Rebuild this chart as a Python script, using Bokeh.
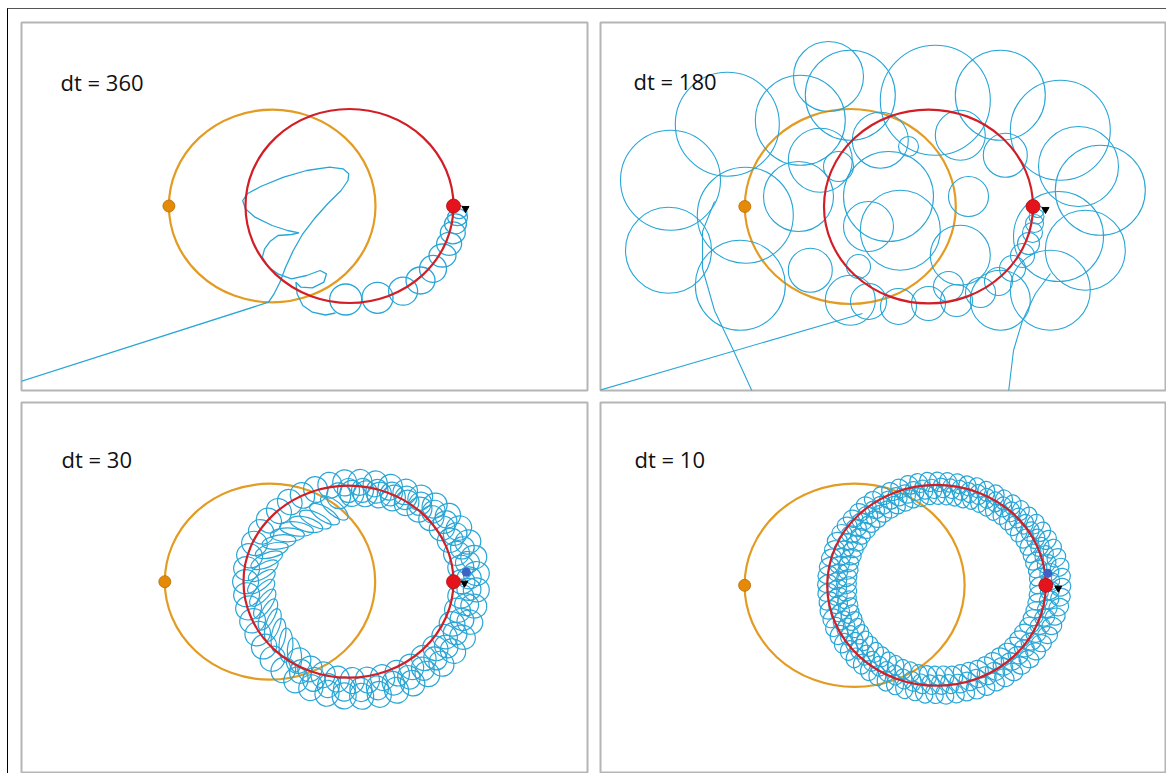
import math
from bokeh.plotting import figure
from bokeh.layouts import column, row
from bokeh.models import ColumnDataSource
from bokeh.embed import file_html
from bokeh.resources import INLINE
from bokeh.core.properties import value

# ------------------------------------------------------------------ data
panel_labels = ["dt = 360", "dt = 180", "dt = 30", "dt = 10"]

# orbits, relative to the centre of the red orbit
red_orbit_rx = [104.0, 104.5, 105.0, 109.3]
red_orbit_ry = [97.0, 97.0, 96.0, 100.5]
orange_orbit_cx = [-77.3, -78.2, -78.5, -81.9]
orange_orbit_rx = [103.3, 105.5, 105.2, 110.0]
orange_orbit_ry = [96.3, 97.5, 98.0, 101.7]

# spacecraft (black triangle) and probe (blue dot)
craft_x = [116, 117, 116, 121.8]
craft_y = [-2.5, -3, -1.5, -2.9]
probe_x = [None, None, 117.8, 111.3]
probe_y = [None, None, 9.5, 12.1]

# ---- dt = 360 trajectory
traj360_x = [-345, -81, -75.4, -69.6, -63.9, -56.2, -46.7, -35.2, -21.8, -8.4, -1.5, -0.7, -6.5,
             -19.9, -42.8, -65.8, -88.8, -102.2, -106.8, -104.1, -94.5, -77.3, -62, -50.5, -58,
             -71.5, -79.2, -84.9, -87.2, -81.1, -71.5, -58.1, -42.8, -29.4, -23, -25.6, -37.1,
             -48.6, -53.6, -52.4, -46.7, -37.1, -24, -14]
traj360_y = [-180.6, -96.2, -87.8, -76.2, -61.2, -44.5, -27.8, -12.8, 2.2, 15.5, 25.5, 32.2, 37.2,
             38.8, 35.5, 28.8, 19.5, 12.2, 5.5, -2.8, -11.2, -19.5, -24.5, -26.8, -28.5,
             -29.5, -35.2, -42.8, -51.2, -61.2, -67.8, -72.8, -69.5, -64.5, -67.8, -76.2, -81.8,
             -81.2, -76.2, -87.8, -99.5, -106.2, -109, -107]
loops360_x = [-3.8, 28, 53.6, 71, 83.5, 93, 99.6, 103.3, 106, 108, 109.5]
loops360_y = [-93.5, -91.8, -85.2, -74.5, -62.8, -49.5, -37.8, -26.8, -17.8, -11.2, -6.2]
loops360_w = [32, 31, 29, 29, 27, 27, 25, 25, 22, 20, 16]
loops360_h = [31, 31, 28, 27, 27, 23, 23, 22, 20, 17, 13]

# ---- dt = 180 trajectory
line180_x = [-345, -66]
line180_y = [-188.5, -107]
arcL180_x = [-174, -195, -214, -226, -226, -214]
arcL180_y = [-190, -144, -104, -62, -25, 5]
arcR180_x = [79.5, 85, 94, 107, 122]
arcR180_y = [-190, -144, -114, -87, -67]
loops180_x = [-201.2, -258, -183.2, -260, -188.2, -128.2, -78.2, 6.8, 71.8, 131.8, 171.8,
              156.8, 121.8, -48.2, 31.8, 76.8, -108.2, -28.2, 31.8, 71.8, -78.2, -118.2,
              -100, 130, 150, -40, -130, -60, -90, -70, 40, -20, 20,
              -60, -30, 0, 28, 52, 70, 84, 94, 100, 104, 106, 108, 109]
loops180_y = [82.3, 26.3, -8.7, -43.7, -78.7, 86.3, 111.3, 106.3, 111.3, 76.3, 16.3,
              -43.7, -83.7, 66.3, 71.3, 51.3, 46.3, -23.7, -48.7, -93.7, -93.7, -63.7,
              130, -30, 40, 10, 10, -20, 40, -60, 10, 60, -80,
              -95, -100, -97, -94, -86, -75, -62, -49, -37, -26, -17, -10, -5]
loops180_d = [104, 100, 96, 86, 90, 90, 90, 110, 90, 100, 90,
              80, 80, 56, 50, 44, 64, 80, 60, 60, 50, 44,
              70, 90, 80, 90, 70, 50, 30, 24, 40, 20, 30,
              36, 36, 34, 32, 30, 28, 26, 24, 22, 20, 18, 15, 12]

# ---- dt = 30 loop band (angle in degrees, distance as fraction of orbit)
band30_outer_ang = [4, 12, 20, 28, 36, 44, 52, 60, 68, 76, 84, 92, 100, 108, 116, 124, 132, 140,
                    148, 156, 164, 172, 180, 188, 196, 204, 212, 220, 228, 236, 244, 252, 260,
                    268, 276, 284, 292, 300, 308, 316, 324, 332, 340, 348, 356]
band30_outer_r = [1.22, 1.22, 1.21, 1.19, 1.17, 1.14, 1.11, 1.08, 1.06, 1.05, 1.04, 1.03, 1.02,
                  1.01, 1.0, 1.0, 0.99, 0.99, 0.98, 0.98, 0.98, 0.98, 0.98, 0.98, 0.99, 1.0, 1.02,
                  1.05, 1.08, 1.11, 1.14, 1.16, 1.18, 1.19, 1.2, 1.21, 1.22, 1.22, 1.22, 1.23,
                  1.23, 1.23, 1.23, 1.22, 1.22]
band30_fill_ang = [2, 10, 18, 26, 34, 42, 50, 58, 66, 74, 82, 90, 244, 252, 260, 268, 276, 284,
                   292, 300, 308, 316, 324, 332, 340, 348, 356]
band30_fill_r = [1.15, 1.15, 1.14, 1.13, 1.11, 1.09, 1.06, 1.03, 1.0, 0.98, 0.96, 0.95, 1.04,
                 1.07, 1.1, 1.12, 1.13, 1.14, 1.14, 1.15, 1.15, 1.15, 1.15, 1.15, 1.15, 1.15, 1.15]
band30_mid_ang = [0, 8, 16, 24, 32, 40, 48, 56, 64, 72, 80, 88, 96, 240, 248, 256, 264, 272,
                  280, 288, 296, 304, 312, 320, 328, 336, 344, 352]
band30_mid_r = [1.08, 1.08, 1.07, 1.06, 1.05, 1.03, 1.01, 0.99, 0.97, 0.95, 0.93, 0.92, 0.9,
                0.95, 0.98, 1.0, 1.02, 1.03, 1.04, 1.05, 1.06, 1.07, 1.07, 1.08, 1.08, 1.08,
                1.08, 1.08]
band30_inner_ang = [100, 108, 116, 124, 132, 140, 148, 156, 164, 172, 180, 188, 196, 204, 212,
                    220, 228, 236]
band30_inner_r = [0.78, 0.74, 0.72, 0.72, 0.74, 0.76, 0.78, 0.8, 0.81, 0.82, 0.83, 0.83, 0.83,
                  0.84, 0.85, 0.87, 0.89, 0.92]

# ---- dt = 10 loop band (three rows of small loops)
band10_a_ang = [0, 5, 10, 15, 20, 25, 30, 35, 40, 45, 50, 55, 60, 65, 70, 75, 80, 85, 90, 95,
                100, 105, 110, 115, 120, 125, 130, 135, 140, 145, 150, 155, 160, 165, 170, 175,
                180, 185, 190, 195, 200, 205, 210, 215, 220, 225, 230, 235, 240, 245, 250, 255,
                260, 265, 270, 275, 280, 285, 290, 295, 300, 305, 310, 315, 320, 325, 330, 335,
                340, 345, 350, 355]
band10_a_r = [0.94, 0.94, 0.94, 0.93, 0.93, 0.93, 0.93, 0.92, 0.92, 0.92, 0.92, 0.91, 0.91, 0.91,
              0.91, 0.90, 0.90, 0.90,
              0.90, 0.90, 0.89, 0.89, 0.88, 0.88, 0.87, 0.87, 0.86, 0.86, 0.85, 0.85, 0.84, 0.84,
              0.83, 0.83, 0.82, 0.82,
              0.82, 0.82, 0.83, 0.83, 0.84, 0.84, 0.85, 0.85, 0.86, 0.86, 0.87, 0.87, 0.88, 0.88,
              0.89, 0.89, 0.90, 0.90,
              0.90, 0.90, 0.91, 0.91, 0.91, 0.92, 0.92, 0.92, 0.92, 0.93, 0.93, 0.93, 0.93, 0.94,
              0.94, 0.94, 0.94, 0.94]
band10_b_ang = [2, 7, 12, 17, 22, 27, 32, 37, 42, 47, 52, 57, 62, 67, 72, 77, 82, 87, 92, 97,
                102, 107, 112, 117, 122, 127, 132, 137, 142, 147, 152, 157, 162, 167, 172, 177,
                182, 187, 192, 197, 202, 207, 212, 217, 222, 227, 232, 237, 242, 247, 252, 257,
                262, 267, 272, 277, 282, 287, 292, 297, 302, 307, 312, 317, 322, 327, 332, 337,
                342, 347, 352, 357]
band10_b_r = [1.04, 1.04, 1.03, 1.03, 1.02, 1.02, 1.01, 1.01, 1.0, 1.0, 0.99, 0.99, 0.98, 0.98,
              0.97, 0.97, 0.97, 0.97,
              0.96, 0.96, 0.96, 0.95, 0.95, 0.95, 0.94, 0.94, 0.94, 0.93, 0.93, 0.93, 0.92, 0.92,
              0.92, 0.91, 0.91, 0.91,
              0.91, 0.91, 0.92, 0.92, 0.93, 0.93, 0.94, 0.94, 0.95, 0.95, 0.96, 0.96, 0.97, 0.97,
              0.98, 0.98, 0.99, 0.99,
              0.99, 0.99, 1.0, 1.0, 1.0, 1.01, 1.01, 1.01, 1.02, 1.02, 1.02, 1.03, 1.03, 1.03,
              1.04, 1.04, 1.04, 1.04]
band10_c_ang = [4, 9, 14, 19, 24, 29, 34, 39, 44, 49, 54, 59, 64, 69, 74, 79, 84, 89, 94, 99,
                104, 109, 114, 119, 124, 129, 134, 139, 144, 149, 154, 159, 164, 169, 174, 179,
                184, 189, 194, 199, 204, 209, 214, 219, 224, 229, 234, 239, 244, 249, 254, 259,
                264, 269, 274, 279, 284, 289, 294, 299, 304, 309, 314, 319, 324, 329, 334, 339,
                344, 349, 354, 359]
band10_c_r = [1.14, 1.14, 1.13, 1.12, 1.11, 1.1, 1.09, 1.08, 1.07, 1.06, 1.05, 1.05, 1.04, 1.04,
              1.03, 1.03, 1.03, 1.03,
              1.03, 1.03, 1.03, 1.02, 1.02, 1.02, 1.02, 1.02, 1.01, 1.01, 1.01, 1.01, 1.01, 1.0,
              1.0, 1.0, 1.0, 1.0,
              1.0, 1.0, 1.01, 1.01, 1.02, 1.02, 1.03, 1.03, 1.04, 1.04, 1.05, 1.05, 1.06, 1.06,
              1.07, 1.07, 1.08, 1.08,
              1.09, 1.09, 1.09, 1.1, 1.1, 1.1, 1.11, 1.11, 1.11, 1.12, 1.12, 1.12, 1.13, 1.13,
              1.13, 1.14, 1.14, 1.14]

# ------------------------------------------------------------------ style
BLUE = "#28a6d6"
ORANGE = "#e39b22"
RED = "#d21f27"
FRAME = "#b5b5b5"

# panel geometry: (frame width, frame height, x range, y range, borders l, r, t, b)
geom = [
    (566, 368, (-328, 238), (-184.5, 183.5), (13, 6, 13, 6)),
    (565, 368, (-328, 237), (-184, 184), (7, 1, 13, 6)),
    (566, 370, (-327, 239), (-190.8, 179.2), (13, 6, 6, 1)),
    (565, 370, (-336, 229), (-187.2, 182.8), (7, 1, 6, 1)),
]
label_pos = [(-289, 124.5), (-295, 126), (-287, 123), (-302, 126.5)]


def band_source(ang, rr, rx, ry, w, h, tilt=0.0):
    xs = [r * rx * math.cos(math.radians(a)) for a, r in zip(ang, rr)]
    ys = [r * ry * math.sin(math.radians(a)) for a, r in zip(ang, rr)]
    rot = [math.radians(a + tilt) for a in ang]
    return ColumnDataSource(dict(x=xs, y=ys, w=[w] * len(xs), h=[h] * len(xs), a=rot))


def make_panel(i):
    fw, fh, xr, yr, (bl, br, bt, bb) = geom[i]
    p = figure(width=fw + bl + br, height=fh + bt + bb, x_range=xr, y_range=yr,
               x_axis_type=None, y_axis_type=None, toolbar_location=None,
               output_backend="svg", min_border_left=bl, min_border_right=br,
               min_border_top=bt, min_border_bottom=bb)
    p.grid.visible = False
    p.outline_line_color = FRAME
    p.outline_line_width = 2
    p.background_fill_color = "white"
    p.border_fill_color = "white"
    p.ellipse(x=[orange_orbit_cx[i]], y=[0], width=[2 * orange_orbit_rx[i]],
              height=[2 * orange_orbit_ry[i]], fill_color=None, line_color=ORANGE,
              line_width=2.2)
    return p


panels = [make_panel(i) for i in range(4)]

# --- trajectories
p = panels[0]
p.line(traj360_x, traj360_y, line_color=BLUE, line_width=1.3)
p.ellipse(x=loops360_x, y=loops360_y, width=loops360_w, height=loops360_h,
          fill_color=None, line_color=BLUE, line_width=1.3)

p = panels[1]
for xs, ys in [(line180_x, line180_y), (arcL180_x, arcL180_y), (arcR180_x, arcR180_y)]:
    p.line(xs, ys, line_color=BLUE, line_width=1.1)
p.ellipse(x=loops180_x, y=loops180_y, width=loops180_d, height=loops180_d,
          fill_color=None, line_color=BLUE, line_width=1.1)

p = panels[2]
for ang, rr, w, h, tilt in [(band30_outer_ang, band30_outer_r, 26, 24, 0),
                            (band30_fill_ang, band30_fill_r, 24, 22, 0),
                            (band30_mid_ang, band30_mid_r, 26, 24, 0),
                            (band30_inner_ang, band30_inner_r, 34, 14, 40)]:
    src = band_source(ang, rr, red_orbit_rx[2], red_orbit_ry[2], w, h, tilt)
    p.ellipse(x="x", y="y", width="w", height="h", angle="a", source=src,
              fill_color=None, line_color=BLUE, line_width=1.2)

p = panels[3]
for ang, rr, w, h in [(band10_a_ang, band10_a_r, 20, 16),
                      (band10_b_ang, band10_b_r, 20, 17),
                      (band10_c_ang, band10_c_r, 20, 17)]:
    src = band_source(ang, rr, red_orbit_rx[3], red_orbit_ry[3], w, h, 30)
    p.ellipse(x="x", y="y", width="w", height="h", angle="a", source=src,
              fill_color=None, line_color=BLUE, line_width=1.2)

# --- red orbit, bodies, labels
for i, p in enumerate(panels):
    p.ellipse(x=[0], y=[0], width=[2 * red_orbit_rx[i]], height=[2 * red_orbit_ry[i]],
              fill_color=None, line_color=RED, line_width=2.2)
    p.scatter(x=[orange_orbit_cx[i] - orange_orbit_rx[i]], y=[0], size=12,
              fill_color="#e58a06", line_color="#b86a00", line_width=0.8)
    if probe_x[i] is not None:
        p.scatter(x=[probe_x[i]], y=[probe_y[i]], size=9, fill_color="#3b62c4",
                  line_color=None)
    p.scatter(x=[red_orbit_rx[i]], y=[0], size=14, fill_color="#e5141c",
              line_color="#b00c12", line_width=0.8)
    p.scatter(x=[craft_x[i]], y=[craft_y[i]], marker="inverted_triangle", size=7,
              fill_color="black", line_color="black")
    tx, ty = label_pos[i]
    p.text(x=[tx], y=[ty], text=[panel_labels[i]], text_font=value("Open Sans"),
           text_font_size="22px", text_baseline="middle", text_align="left",
           text_color="#111111")

layout = column(row(panels[0], panels[1]), row(panels[2], panels[3]),
                styles={"margin": "8px 0px 0px 7px",
                        "border-top": "1px solid #555555",
                        "border-left": "1px solid #000000"})

open("out.html", "w").write(file_html(layout, INLINE))
